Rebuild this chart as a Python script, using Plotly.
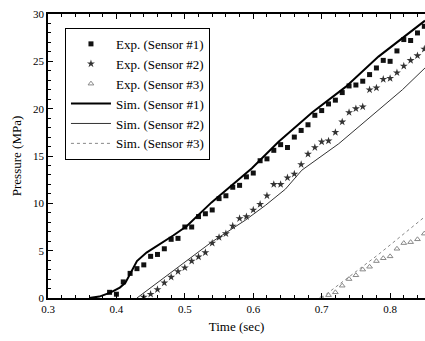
import plotly.graph_objects as go

# Simulation curves
sim1_t = [0.36, 0.375, 0.391, 0.405, 0.413, 0.422, 0.430, 0.444, 0.464, 0.483, 0.503, 0.522, 0.539, 0.598, 0.637, 0.686, 0.735, 0.783, 0.851]
sim1_p = [0.0, 0.15, 0.56, 1.1, 1.6, 2.9, 3.9, 4.8, 5.7, 6.6, 7.6, 8.9, 10.1, 13.7, 16.5, 19.6, 22.3, 25.5, 29.3]

sim2_t = [0.43, 0.539, 0.588, 0.618, 0.647, 0.671, 0.725, 0.783, 0.818, 0.851]
sim2_p = [0.0, 5.9, 8.2, 9.8, 11.5, 13.5, 16.3, 19.8, 22.0, 24.3]

sim3_t = [0.70, 0.703, 0.783, 0.851]
sim3_p = [0.0, 0.2, 4.6, 8.6]

# Experimental points
exp1_t = [0.39, 0.40, 0.41, 0.42, 0.43, 0.44, 0.45, 0.46, 0.47, 0.48, 0.49, 0.50, 0.51, 0.52, 0.53, 0.54,
          0.55, 0.56, 0.57, 0.58, 0.59, 0.60, 0.61, 0.62, 0.63, 0.64, 0.65, 0.66, 0.67, 0.68, 0.69, 0.70,
          0.71, 0.72, 0.73, 0.74, 0.75, 0.76, 0.77, 0.78, 0.79, 0.80, 0.81, 0.82, 0.83, 0.84, 0.85]
exp1_p = [0.6, 0.4, 1.7, 2.6, 3.1, 3.5, 4.4, 4.6, 5.2, 6.2, 6.3, 7.5, 7.5, 8.6, 8.9, 9.3,
          10.5, 10.8, 11.7, 11.9, 12.8, 13.2, 14.5, 14.7, 15.6, 16.2, 15.9, 17.0, 17.7, 18.3, 19.3, 19.8,
          20.5, 20.9, 21.7, 22.4, 22.5, 22.9, 23.6, 24.3, 25.1, 25.0, 26.1, 27.3, 27.2, 28.0, 28.7]

exp2_t = [0.44, 0.45, 0.46, 0.47, 0.48, 0.49, 0.50, 0.51, 0.52, 0.53, 0.54, 0.55, 0.56, 0.57, 0.58, 0.59,
          0.60, 0.61, 0.62, 0.63, 0.64, 0.65, 0.66, 0.67, 0.68, 0.69, 0.70, 0.71, 0.72, 0.73, 0.74, 0.75,
          0.76, 0.77, 0.78, 0.79, 0.80, 0.81, 0.82, 0.83, 0.84, 0.85]
exp2_p = [0.1, 0.4, 0.9, 1.6, 2.2, 2.8, 3.2, 3.9, 4.35, 4.8, 5.8, 6.4, 6.8, 7.6, 8.4, 8.6,
          9.3, 9.9, 10.8, 12.0, 12.0, 12.7, 13.1, 14.1, 15.2, 15.9, 16.5, 16.6, 17.5, 18.6, 19.6, 20.0,
          20.2, 22.0, 22.2, 23.1, 23.2, 23.8, 24.5, 25.1, 25.6, 26.3]

exp3_t = [0.70, 0.71, 0.72, 0.73, 0.74, 0.75, 0.76, 0.77, 0.78, 0.79, 0.80, 0.81, 0.82, 0.83, 0.84, 0.85]
exp3_p = [0.0, 0.3, 0.6, 1.3, 2.0, 2.4, 3.0, 3.3, 3.9, 4.2, 4.4, 5.2, 5.8, 5.9, 6.2, 6.8]

x_ticks = [0.3, 0.4, 0.5, 0.6, 0.7, 0.8]
y_ticks = [0, 5, 10, 15, 20, 25, 30]

serif = "Liberation Serif"

fig = go.Figure()
fig.add_trace(go.Scatter(x=exp1_t, y=exp1_p, mode="markers", name="Exp. (Sensor #1)",
                         marker=dict(symbol="square", size=5, color="#111")))
fig.add_trace(go.Scatter(x=exp2_t, y=exp2_p, mode="markers", name="Exp. (Sensor #2)",
                         marker=dict(symbol="star", size=6, color="#333")))
fig.add_trace(go.Scatter(x=exp3_t, y=exp3_p, mode="markers", name="Exp. (Sensor #3)",
                         marker=dict(symbol="triangle-up-open", size=5, color="#888", line=dict(width=1))))
fig.add_trace(go.Scatter(x=sim1_t, y=sim1_p, mode="lines", name="Sim. (Sensor #1)",
                         line=dict(color="#000", width=2)))
fig.add_trace(go.Scatter(x=sim2_t, y=sim2_p, mode="lines", name="Sim. (Sensor #2)",
                         line=dict(color="#333", width=1)))
fig.add_trace(go.Scatter(x=sim3_t, y=sim3_p, mode="lines", name="Sim. (Sensor #3)",
                         line=dict(color="#888", width=1, dash="dot")))

fig.update_layout(
    width=425, height=341, autosize=False,
    margin=dict(l=48, r=0, t=14, b=43),
    paper_bgcolor="white", plot_bgcolor="white",
    font=dict(family=serif, color="#000", size=11),
    showlegend=True,
    legend=dict(x=0.045, y=0.951, xanchor="left", yanchor="top",
                bordercolor="#000", borderwidth=1, bgcolor="white",
                font=dict(family=serif, size=13), itemwidth=40,
                tracegroupgap=0),
    xaxis=dict(range=[0.3, 0.851], tickvals=x_ticks, ticktext=[f"{v:.1f}" for v in x_ticks],
               ticks="inside", ticklen=5, tickcolor="#000", showline=True, linecolor="#000",
               linewidth=1.5, mirror="ticks", showgrid=False, zeroline=False,
               minor=dict(dtick=0.02, ticks="inside", ticklen=3, tickcolor="#000", showgrid=False),
               title=dict(text="Time (sec)", font=dict(family=serif, size=13), standoff=8),
               tickfont=dict(family=serif, size=11)),
    yaxis=dict(range=[0, 30], tickvals=y_ticks, ticks="inside", ticklen=5, tickcolor="#000",
               showline=True, linecolor="#000", linewidth=1.5, showgrid=False, zeroline=False,
               minor=dict(dtick=1, ticks="inside", ticklen=3, tickcolor="#000", showgrid=False),
               title=dict(text="Pressure (MPa)", font=dict(family=serif, size=13), standoff=8),
               tickfont=dict(family=serif, size=11)),
)

fig.write_html("out.html", config={"displayModeBar": False},
               post_script="document.body.style.margin='0';")
